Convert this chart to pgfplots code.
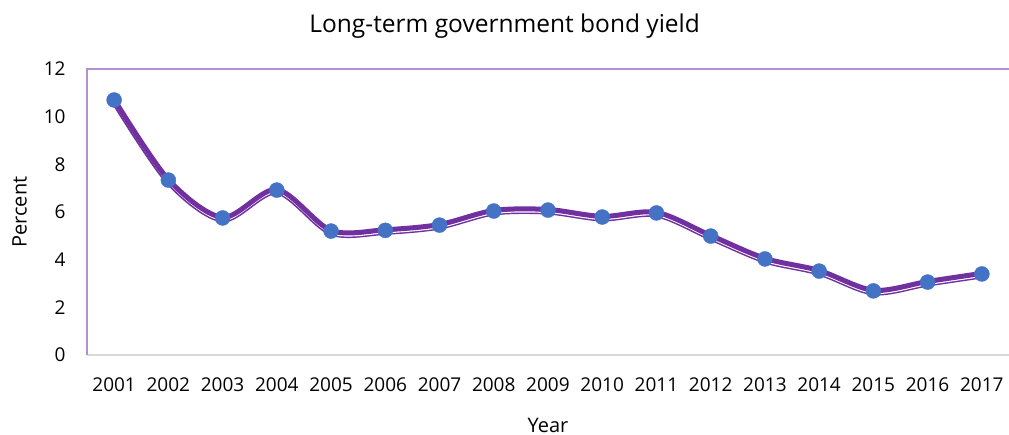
\documentclass[border=0pt]{standalone}
\usepackage{fontspec}
\setmainfont{Open Sans}
\usepackage{pgfplots}
\pgfplotsset{compat=1.18}
\definecolor{linepurple}{HTML}{7030A0}
\definecolor{framepurple}{HTML}{B48ED2}
\definecolor{mk}{HTML}{4472C4}
\definecolor{gridgray}{HTML}{D9D9D9}
\begin{document}
\begin{tikzpicture}
\useasboundingbox (0,0) rectangle (1009bp,435bp);
\begin{axis}[
  at={(87bp,80bp)}, anchor=south west,
  scale only axis, width=922bp, height=286bp,
  xmin=2000.5, xmax=2017.5, ymin=0, ymax=12,
  xtick={2001,...,2017}, ytick={0,2,...,12},
  xticklabel style={/pgf/number format/1000 sep={}},
  /pgf/number format/assume math mode=true,
  tick label style={font=\fontsize{19bp}{21bp}\selectfont, text=black},
  xticklabel style={yshift=-19bp},
  yticklabel style={xshift=-18bp},
  major tick length=0pt,
  axis line style={draw=none},
  xlabel={Year}, ylabel={Percent},
  label style={font=\fontsize{20bp}{22bp}\selectfont},
  xlabel style={at={(axis description cs:0.5,-0.245)}, anchor=center},
  ylabel style={at={(axis description cs:-0.073,0.5)}, anchor=center},
  title={Long-term government bond yield},
  title style={font=\fontsize{24.5bp}{26bp}\selectfont, at={(axis description cs:0.453,1)}, anchor=south, yshift=21bp},
  clip=false,
]
\draw[gridgray, line width=2bp] (rel axis cs:0,0) -- (rel axis cs:1,0);
\draw[framepurple, line width=2bp] (rel axis cs:0,0) -- (rel axis cs:0,1) -- (rel axis cs:1,1);
\pgfplotstableread{
x y
2001 10.70
2002 7.34
2003 5.75
2004 6.92
2005 5.20
2006 5.23
2007 5.45
2008 6.04
2009 6.08
2010 5.79
2011 5.96
2012 4.99
2013 4.03
2014 3.52
2015 2.69
2016 3.06
2017 3.40
}\datatable
\addplot[linepurple, line width=6bp, smooth, tension=0.5, no markers, yshift=-1.5bp] table {\datatable};
\addplot[white, line width=1.5bp, smooth, tension=0.5, no markers, yshift=-2.3bp] table {\datatable};
\addplot[linepurple, line width=5bp, smooth, tension=0.5, no markers, yshift=0.6bp] table {\datatable};
\addplot[only marks, mark=*, mark size=7.5bp, mk, mark options={draw=mk, fill=mk}] table {\datatable};
\end{axis}
\end{tikzpicture}
\end{document}
